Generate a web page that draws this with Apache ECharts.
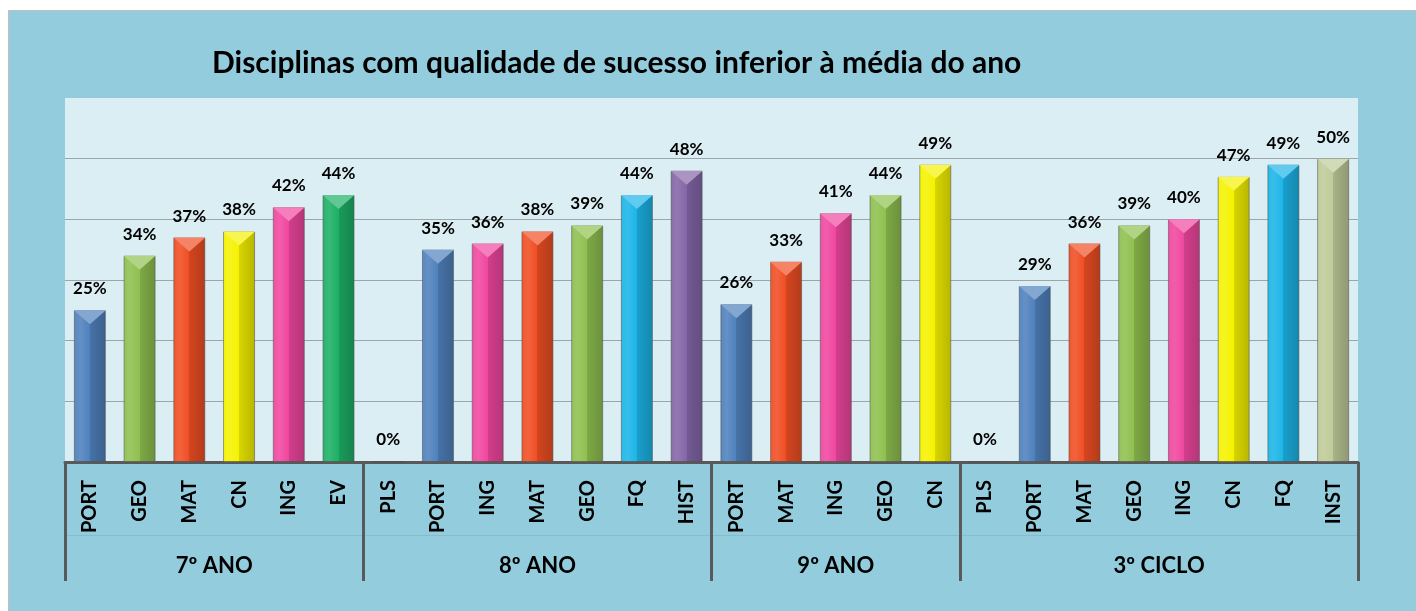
<!DOCTYPE html>
<html>
<head>
<meta charset="utf-8">
<script src="https://cdn.jsdelivr.net/npm/echarts@6/dist/echarts.min.js"></script>
<style>
  html, body { margin: 0; padding: 0; background: #fff; }
  #chart { width: 1416px; height: 611px; }
</style>
</head>
<body>
<div id="chart"></div>
<script>
// Data
const groupNames = ['7º ANO', '8º ANO', '9º ANO', '3º CICLO'];

const subjects7 = ['PORT', 'GEO', 'MAT', 'CN', 'ING', 'EV'];
const values7 = [25, 34, 37, 38, 42, 44];

const subjects8 = ['PLS', 'PORT', 'ING', 'MAT', 'GEO', 'FQ', 'HIST'];
const values8 = [0, 35, 36, 38, 39, 44, 48];

const subjects9 = ['PORT', 'MAT', 'ING', 'GEO', 'CN'];
const values9 = [26, 33, 41, 44, 49];

const subjectsCiclo = ['PLS', 'PORT', 'MAT', 'GEO', 'ING', 'CN', 'FQ', 'INST'];
const valuesCiclo = [0, 29, 36, 39, 40, 47, 49, 50];

// Colour per subject
const SUBJECT_COLORS = {
  PORT: '#4F81BD',
  GEO: '#8FC04F',
  MAT: '#F04E23',
  CN: '#F5F200',
  ING: '#F0479F',
  EV: '#1DB066',
  FQ: '#1CB5E8',
  HIST: '#8466A8',
  INST: '#BFCB99',
  PLS: '#4F81BD',
};

const groupSubjects = [subjects7, subjects8, subjects9, subjectsCiclo];
const groupValues = [values7, values8, values9, valuesCiclo];

const categories = [].concat(...groupSubjects);
const values = [].concat(...groupValues);

// group boundaries and centres on a 0..N value scale
const bounds = [0];
groupSubjects.forEach((g) => bounds.push(bounds[bounds.length - 1] + g.length));
const centers = groupNames.map((_, i) => (bounds[i] + bounds[i + 1]) / 2);

// mix a hex colour with white (t>0) or black (t<0)
const shade = (hex, t) => {
  const n = parseInt(hex.slice(1), 16);
  let rgb = [(n >> 16) & 255, (n >> 8) & 255, n & 255];
  rgb = rgb.map((c) => Math.round(t >= 0 ? c + (255 - c) * t : c * (1 + t)));
  return 'rgb(' + rgb.join(',') + ')';
};

const barData = values.map((v, i) => {
  const base = SUBJECT_COLORS[categories[i]];
  return {
    value: v,
    itemStyle: {
      color: {
        type: 'linear', x: 0, y: 0, x2: 1, y2: 0,
        colorStops: [
          { offset: 0, color: shade(base, 0.05) },
          { offset: 0.2, color: shade(base, 0.12) },
          { offset: 0.5, color: base },
          { offset: 0.5, color: shade(base, -0.12) },
          { offset: 1, color: shade(base, -0.25) },
        ],
      },
    },
  };
});

const capData = values.map((v, i) => ({
  value: v,
  symbolSize: v > 0 ? [32, 14] : [0, 0],
  itemStyle: { color: shade(SUBJECT_COLORS[categories[i]], 0.3) },
}));

const chart = echarts.init(document.getElementById('chart'));

const option = {
  animation: false,
  backgroundColor: '#fff',
  graphic: [
    {
      type: 'rect',
      z: -10,
      silent: true,
      shape: { x: 8.5, y: 10.5, width: 1420, height: 620 },
      style: { fill: '#93CDDD', stroke: '#BFBFBF', lineWidth: 1 },
    },
  ],
  title: {
    text: 'Disciplinas com qualidade de sucesso inferior à média do ano',
    left: 207,
    top: 43,
    textStyle: { fontFamily: 'Lato', fontWeight: 'bold', fontSize: 30, color: '#000' },
  },
  grid: {
    left: 65,
    right: 58,
    top: 98,
    bottom: 149,
    show: true,
    backgroundColor: '#DBEEF3',
    borderWidth: 0,
  },
  xAxis: [
    {
      type: 'category',
      data: categories,
      axisLine: { lineStyle: { color: '#595959', width: 3 } },
      axisTick: { show: false },
      axisLabel: {
        rotate: 90,
        margin: 18,
        interval: 0,
        color: '#000',
        fontFamily: 'Lato',
        fontWeight: 'bold',
        fontSize: 20,
      },
    },
    {
      type: 'value',
      position: 'bottom',
      min: 0,
      max: bounds[bounds.length - 1],
      axisLine: { show: false },
      splitLine: { show: false },
      axisTick: {
        show: true,
        customValues: bounds,
        length: 119,
        lineStyle: { color: '#595959', width: 3 },
      },
      axisLabel: {
        customValues: centers,
        margin: 93,
        color: '#000',
        fontFamily: 'Lato',
        fontWeight: 'bold',
        fontSize: 22,
        formatter: (v) => groupNames[centers.indexOf(v)] || '',
      },
    },
    {
      type: 'category',
      position: 'bottom',
      offset: 73,
      data: categories,
      axisLine: { lineStyle: { color: 'rgba(90,90,90,0.15)', width: 1 } },
      axisTick: { show: false },
      axisLabel: { show: false },
    },
  ],
  yAxis: {
    type: 'value',
    min: 0,
    max: 60,
    interval: 10,
    axisLine: { show: false },
    axisTick: { show: false },
    axisLabel: { show: false },
    splitLine: {
      lineStyle: {
        color: ['#9AA6A9', '#9AA6A9', '#9AA6A9', '#9AA6A9', '#9AA6A9', '#9AA6A9', 'rgba(0,0,0,0)'],
        width: 1.2,
      },
    },
  },
  series: [
    {
      type: 'bar',
      data: barData,
      barWidth: 32,
      itemStyle: { borderColor: 'rgba(80,80,80,0.55)', borderWidth: 1 },
      label: {
        show: true,
        position: 'top',
        distance: 13,
        formatter: '{c}%',
        color: '#000',
        fontFamily: 'Lato',
        fontWeight: 'bold',
        fontSize: 17,
      },
      z: 2,
    },
    {
      type: 'pictorialBar',
      data: capData,
      symbol: 'triangle',
      symbolRotate: 180,
      symbolPosition: 'end',
      symbolOffset: [0, 0],
      silent: true,
      z: 3,
    },
  ],
};

chart.setOption(option);
</script>
</body>
</html>
